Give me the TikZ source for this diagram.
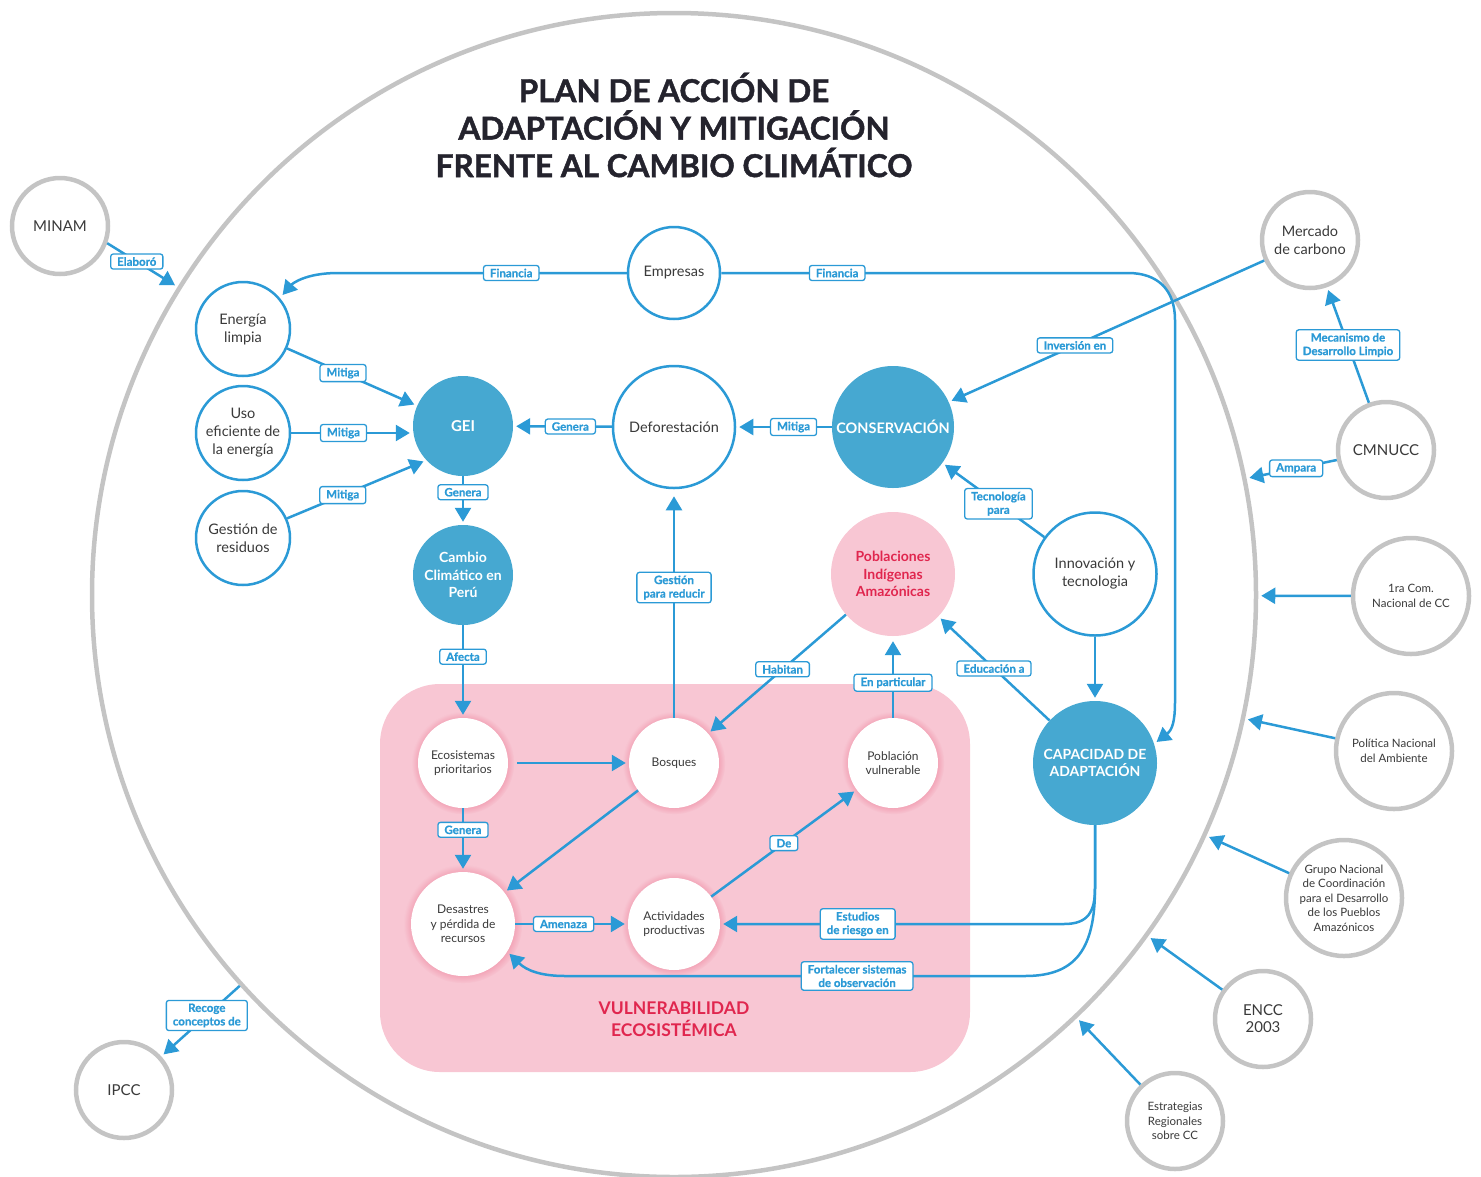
\documentclass[tikz,border=0pt]{standalone}
\usepackage{fontspec}
\setmainfont{Lato}
\newfontfamily\titlefont{Lato}[BoldFeatures={FakeBold=1.4}]
\newfontfamily\tagfont{Lato}[BoldFeatures={FakeBold=0.7}]
\usetikzlibrary{arrows.meta,shadows}

\definecolor{lineblue}{HTML}{2B9AD6}
\definecolor{fillblue}{HTML}{46A8D1}
\definecolor{pinkbg}{HTML}{F8C6D3}
\definecolor{crimson}{HTML}{E0264E}
\definecolor{ringgray}{HTML}{C4C4C4}
\definecolor{ink}{HTML}{3A3A3A}
\definecolor{titleink}{HTML}{24232D}

\newcommand\fsz[2]{\fontsize{#1}{#2}\selectfont}

\tikzset{
  bub/.style={circle, inner sep=0pt, align=center, text=ink},
  planring/.style={bub, draw=ringgray, line width=4.5pt, minimum size=#1},
  extnode/.style={bub, draw=ringgray, line width=4.5pt, fill=white, minimum size=#1},
  hollow/.style={bub, draw=lineblue, line width=2.5pt, fill=white, minimum size=#1, font=\fsz{14.5}{18}},
  fullnode/.style={bub, fill=fillblue, text=white, minimum size=#1, font=\bfseries\fsz{14}{17.5}},
  glownode/.style={bub, fill=white, minimum size=#1, font=\fsz{12}{14.5},
    general shadow={shadow scale=1.14, path fading=circle with fuzzy edge 20 percent, fill=crimson, opacity=0.3}},
  tag/.style={draw=lineblue, line width=1.3pt, fill=white, rounded corners=2.5pt, text=lineblue,
    font=\tagfont\bfseries\fsz{11.5}{13.5}, inner xsep=6.5pt, inner ysep=3.2pt, align=center},
  link/.style={draw=lineblue, line width=2.5pt},
  arr/.style={link, -{Triangle[length=14pt,width=16pt]}, shorten >=3pt},
}

\begin{document}
\begin{tikzpicture}[x=1pt,y=-1pt]
\useasboundingbox (0,0) rectangle (1481,1176);
\clip (0,0) rectangle (1481,1176);

% the plan's frame
\node[planring=1164pt] (plan) at (674,595) {};

\node[font=\titlefont\bfseries\fsz{31.5}{37.5}, text=titleink, align=center] (title) at (674,125)
  {PLAN DE ACCIÓN DE\\ADAPTACIÓN Y MITIGACIÓN\\FRENTE AL CAMBIO CLIMÁTICO};

% vulnerability area
\node[fill=pinkbg, rounded corners=60pt, minimum width=590pt, minimum height=388pt, inner sep=0pt] (vuln) at (675,878) {};
\node[font=\bfseries\fsz{17.5}{22}, text=crimson, align=center] (vulntxt) at (674,1019) {VULNERABILIDAD\\ECOSISTÉMICA};

% external actors and instruments
\node[extnode=96pt, font=\fsz{15}{18}] (minam) at (60,226) {MINAM};
\node[extnode=96pt, font=\fsz{14.5}{18}] (merc) at (1310,240) {Mercado\\de carbono};
\node[extnode=96pt, font=\fsz{15}{18}] (cmnucc) at (1386,450) {CMNUCC};
\node[extnode=116pt, font=\fsz{11.5}{14.5}] (com) at (1411,596) {1ra Com.\\Nacional de CC};
\node[extnode=116pt, font=\fsz{11.5}{14.5}] (pna) at (1394,751) {Política Nacional\\del Ambiente};
\node[extnode=116pt, font=\fsz{11.5}{14.5}] (gnc) at (1344,898) {Grupo Nacional\\de Coordinación\\para el Desarrollo\\de los Pueblos\\Amazónicos};
\node[extnode=96pt, font=\fsz{15}{17}] (encc) at (1263,1019) {ENCC\\2003};
\node[extnode=96pt, font=\fsz{11.5}{14.5}] (ercc) at (1175,1121) {Estrategias\\Regionales\\sobre CC};
\node[extnode=96pt, font=\fsz{15}{18}] (ipcc) at (124,1090) {IPCC};

% mitigation side
\node[hollow=94pt] (ener) at (243,329) {Energía\\limpia};
\node[hollow=94pt] (uso) at (243,433) {Uso\\eficiente de\\la energía};
\node[hollow=94pt] (gest) at (243,538) {Gestión de\\residuos};
\node[hollow=92pt] (emp) at (674,273) {Empresas};
\node[hollow=122pt] (def) at (674,427) {Deforestación};
\node[hollow=123pt] (inn) at (1095,574) {Innovación y\\tecnologia};

\node[fullnode=100pt, font=\bfseries\fsz{15}{18}] (gei) at (463,426) {GEI};
\node[fullnode=100pt] (cc) at (463,575) {Cambio\\Climático en\\Perú};
\node[fullnode=122pt, font=\bfseries\fsz{14.5}{17.5}] (cons) at (893,427) {CONSERVACIÓN};
\node[fullnode=124pt] (cap) at (1095,763) {CAPACIDAD DE\\ADAPTACIÓN};
\node[fullnode=124pt, fill=pinkbg, text=crimson] (pob) at (893,574) {Poblaciones\\Indígenas\\Amazónicas};

% ecosystem vulnerability
\node[glownode=90pt] (eco) at (463,763) {Ecosistemas\\prioritarios};
\node[glownode=90pt] (bos) at (674,763) {Bosques};
\node[glownode=90pt] (pv) at (893,763) {Población\\vulnerable};
\node[glownode=104pt] (des) at (463,924) {Desastres\\y pérdida de\\recursos};
\node[glownode=92pt] (act) at (674,924) {Actividades\\productivas};

% links with the outside
\draw[arr] (minam.-20) -- node[tag,pos=.42]{Elaboró} (plan);
\draw[arr] (cmnucc) -- node[tag,pos=.45]{Ampara} (plan);
\draw[arr] (cmnucc) -- node[tag,pos=.5]{Mecanismo de\\Desarrollo Limpio} (merc);
\draw[arr] (com) -- (plan);
\draw[arr] (pna) -- (plan);
\draw[arr] (gnc) -- (plan);
\draw[arr] (encc) -- (plan);
\draw[arr] (ercc) -- (plan);
\draw[arr] (plan) -- node[tag,pos=.42]{Recoge\\conceptos de} (ipcc);
\draw[arr] (merc) -- node[tag,pos=.6]{Inversión en} (cons);

% financing
\coordinate (finL) at (338,273);
\draw[arr, shorten >=4pt] (emp.west) -- node[tag,pos=.4]{Financia} (finL) .. controls (305,273) and (292,284) .. (ener.40);
\coordinate (finR) at (1128,273);
\coordinate (finR2) at (1175,320);
\coordinate (finR3) at (1175,702);
\draw[arr] (emp.east) -- node[tag,pos=.285]{Financia} (finR) .. controls (1158,273) and (1175,290) .. (finR2) -- (finR3) .. controls (1175,722) and (1172,730) .. (cap.18);

% mitigation
\draw[arr] (ener) -- node[tag,pos=.43]{Mitiga} (gei);
\draw[arr] (uso.east) -- node[tag,pos=.43]{Mitiga} (uso.east -| gei.west);
\draw[arr] (gest.24) -- node[tag,pos=.4]{Mitiga} (gei.223);
\draw[arr] (def) -- node[tag,pos=.42]{Genera} (gei);
\draw[arr] (cons) -- node[tag,pos=.4]{Mitiga} (def);
\draw[arr] (gei) -- node[tag,pos=.33]{Genera} (cc);
\draw[arr] (cc) -- node[tag,pos=.34]{Afecta} (eco);

% inside the vulnerability area
\draw[arr, shorten <=9pt] (eco) -- (bos);
\draw[arr, shorten >=7pt] (bos) -- node[tag,pos=.57]{Gestión\\para reducir} (def);
\draw[arr] (pob) -- node[tag,pos=.46]{Habitan} (bos);
\draw[arr, shorten >=5pt] (pv) -- node[tag,pos=.43]{En particular} (pob);
\draw[arr] (cap) -- node[tag,pos=.5]{Educación a} (pob);
\draw[arr] (inn) -- node[tag,pos=.45]{Tecnología\\para} (cons);
\draw[arr] (inn) -- (cap);
\draw[arr] (eco) -- node[tag,pos=.34]{Genera} (des);
\draw[arr] (bos) -- (des);
\draw[arr] (des) -- node[tag,pos=.43]{Amenaza} (act);
\draw[arr] (act) -- node[tag,pos=.5]{De} (pv);

% adaptation measures
\coordinate (trunk) at (1095,888);
\coordinate (est1) at (1064,924);
\coordinate (fo1) at (1025,976);
\coordinate (fo2) at (565,976);
\draw[arr] (cap.south) -- (trunk) .. controls (1095,912) and (1088,924) .. (est1) -- node[tag,pos=.6]{Estudios\\de riesgo en} (act.east);
\draw[arr] (cap.south) -- (trunk) .. controls (1095,950) and (1075,976) .. (fo1) -- node[tag,pos=.365]{Fortalecer sistemas\\de observación} (fo2) .. controls (540,976) and (526,970) .. (des.-32);
\end{tikzpicture}
\end{document}
